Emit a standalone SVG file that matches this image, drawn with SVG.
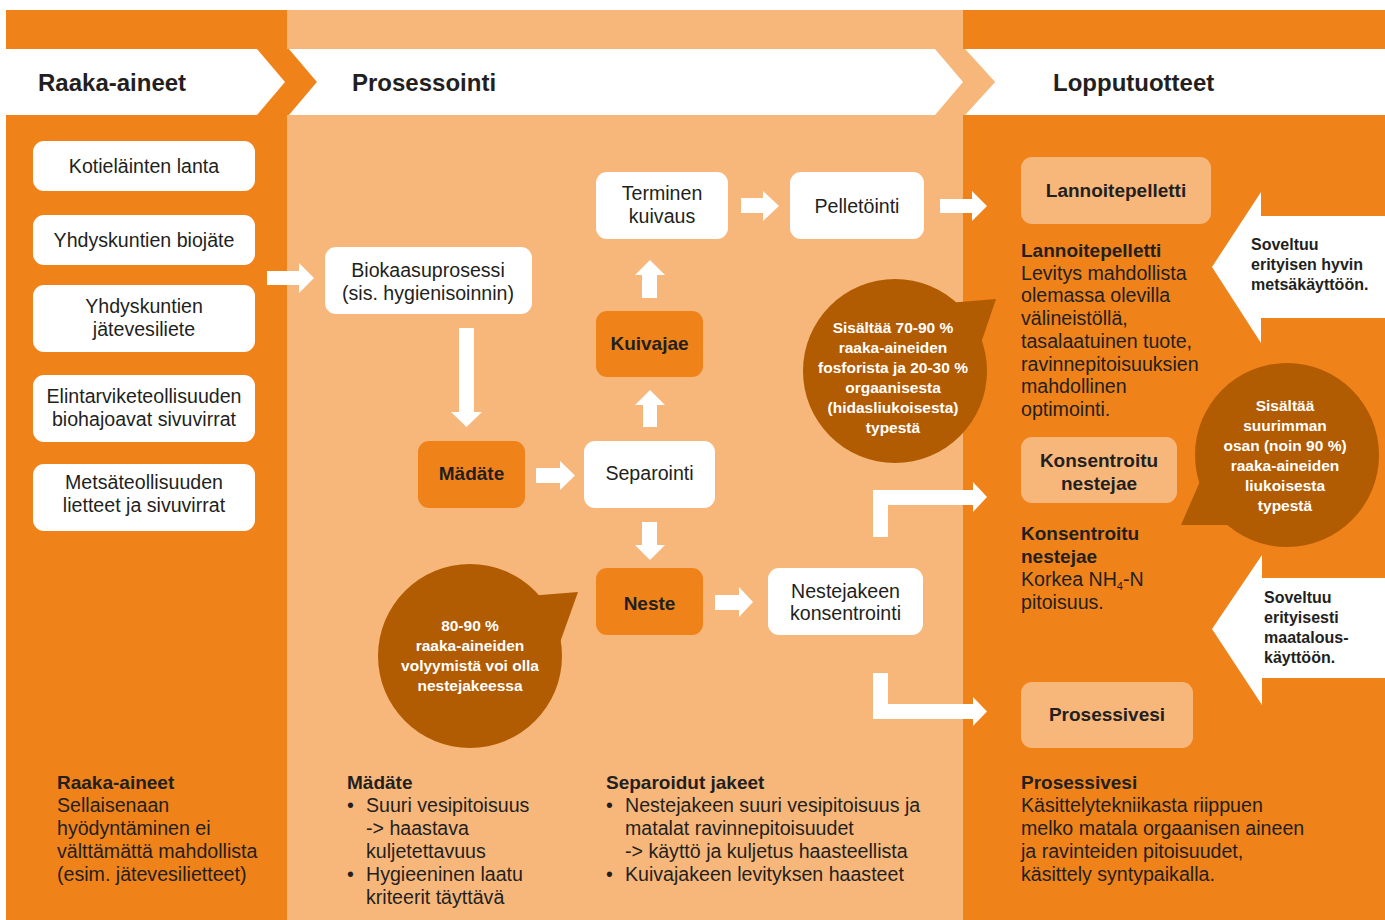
<svg xmlns="http://www.w3.org/2000/svg" width="1385" height="920" viewBox="0 0 1385 920">
<style>
.or{fill:#F0821A}
.lo{fill:#F8B77A}
.wh{fill:#FFFFFF}
.br{fill:#B15C02}
.t{font-family:"Liberation Sans",Arial,sans-serif;font-size:19.6px;fill:#231F20}
.c{text-anchor:middle}
.b{font-family:"Liberation Sans",Arial,sans-serif;font-weight:bold;fill:#231F20}
.h{font-size:24px}
.bl{font-size:19px}
.m{text-anchor:middle}
.bw{font-family:"Liberation Sans",Arial,sans-serif;font-weight:bold;font-size:15.5px;fill:#FFFFFF;text-anchor:middle}
.sv{font-family:"Liberation Sans",Arial,sans-serif;font-weight:bold;font-size:16px;fill:#231F20}
</style>
<rect width="1385" height="920" fill="#FFFFFF"/>
<!-- columns -->
<rect x="6" y="10" width="281" height="910" class="or"/>
<rect x="287" y="10" width="676" height="910" class="lo"/>
<rect x="963" y="10" width="422" height="910" class="or"/>
<!-- header -->
<g id="header">
<polygon points="257,49 289,49 317,82 289,115 257,115 285,82" class="or"/>
<polygon points="935,49 965,49 995,82 965,115 935,115 963,82" class="lo"/>
<polygon points="6,49 257,49 285,82 257,115 6,115" class="wh"/>
<polygon points="289,49 935,49 963,82 935,115 289,115 317,82" class="wh"/>
<polygon points="965,49 1385,49 1385,115 965,115 995,82" class="wh"/>
<text x="38" y="91" class="b h">Raaka-aineet</text>
<text x="352" y="91" class="b h">Prosessointi</text>
<text x="1053" y="91" class="b h">Lopputuotteet</text>
</g>
<!-- connectors -->
<g id="connectors" class="wh">
<polygon points="267,271 299,271 299,263 314,278 299,293 299,285 267,285"/>
<polygon points="459,328 474,328 474,412 482,412 466.5,427 451,412 459,412"/>
<polygon points="536,468 560,468 560,461 575,475.5 560,490 560,483 536,483"/>
<polygon points="643,427 643,405 635,405 650,390 665,405 657,405 657,427"/>
<polygon points="642,298 642,275 635,275 650,260 665,275 657,275 657,298"/>
<polygon points="642,522 657,522 657,545 665,545 650,560 635,545 642,545"/>
<polygon points="715,595 739,595 739,587 753,602 739,617 739,610 715,610"/>
<polygon points="741,198 763,198 763,191 779,206 763,221 763,213 741,213"/>
<polygon points="940,199 972,199 972,191 987,206 972,221 972,213 940,213"/>
<polygon points="873,537 873,490 973,490 973,482 987,497 973,512 973,505 888,505 888,537"/>
<polygon points="873,673 888,673 888,704 973,704 973,697 987,711.5 973,726 973,719 873,719"/>
</g>
<!-- raw materials -->
<g id="n-kotielainten">
<rect x="33" y="141" width="222" height="50" rx="11" class="wh"/>
<text x="144" y="173" class="t c">Kotieläinten lanta</text>
</g>
<g id="n-biojate">
<rect x="33" y="215" width="222" height="50" rx="11" class="wh"/>
<text x="144" y="247" class="t c">Yhdyskuntien biojäte</text>
</g>
<g id="n-jatevesiliete">
<rect x="33" y="285" width="222" height="67" rx="11" class="wh"/>
<text x="144" y="313" class="t c">Yhdyskuntien</text>
<text x="144" y="336" class="t c">jätevesiliete</text>
</g>
<g id="n-elintarvike">
<rect x="33" y="375" width="222" height="67" rx="11" class="wh"/>
<text x="144" y="403" class="t c">Elintarviketeollisuuden</text>
<text x="144" y="426" class="t c">biohajoavat sivuvirrat</text>
</g>
<g id="n-metsa">
<rect x="33" y="464" width="222" height="67" rx="11" class="wh"/>
<text x="144" y="489" class="t c">Metsäteollisuuden</text>
<text x="144" y="512" class="t c">lietteet ja sivuvirrat</text>
</g>
<!-- process -->
<g id="n-biokaasu">
<rect x="325" y="247" width="207" height="67" rx="11" class="wh"/>
<text x="428" y="277" class="t c">Biokaasuprosessi</text>
<text x="428" y="299.5" class="t c">(sis. hygienisoinnin)</text>
</g>
<g id="n-madate">
<rect x="418" y="441" width="107" height="67" rx="11" class="or"/>
<text x="471.5" y="480" class="b bl m">Mädäte</text>
</g>
<g id="n-separointi">
<rect x="584" y="441" width="131" height="67" rx="11" class="wh"/>
<text x="649.5" y="480" class="t c">Separointi</text>
</g>
<g id="n-kuivajae">
<rect x="596" y="311" width="107" height="66" rx="11" class="or"/>
<text x="649.5" y="350" class="b bl m">Kuivajae</text>
</g>
<g id="n-terminen">
<rect x="596" y="172" width="132" height="67" rx="11" class="wh"/>
<text x="662" y="200" class="t c">Terminen</text>
<text x="662" y="223" class="t c">kuivaus</text>
</g>
<g id="n-pelletointi">
<rect x="790" y="172" width="134" height="67" rx="11" class="wh"/>
<text x="857" y="213" class="t c">Pelletöinti</text>
</g>
<g id="n-neste">
<rect x="596" y="568" width="107" height="67" rx="11" class="or"/>
<text x="649.5" y="610" class="b bl m">Neste</text>
</g>
<g id="n-nestejakeen">
<rect x="768" y="568" width="155" height="67" rx="11" class="wh"/>
<text x="845.5" y="597.5" class="t c">Nestejakeen</text>
<text x="845.5" y="620" class="t c">konsentrointi</text>
</g>
<!-- bubbles -->
<g id="bubble-fosfori">
<ellipse cx="895" cy="371" rx="92" ry="92" class="br"/>
<polygon points="948,303 996,299 978,352" class="br"/>
<text x="893" y="333" class="bw">Sisältää 70-90 %</text>
<text x="893" y="353" class="bw">raaka-aineiden</text>
<text x="893" y="373" class="bw">fosforista ja 20-30 %</text>
<text x="893" y="393" class="bw">orgaanisesta</text>
<text x="893" y="413" class="bw">(hidasliukoisesta)</text>
<text x="893" y="433" class="bw">typestä</text>
</g>
<g id="bubble-typpi">
<ellipse cx="1287" cy="455" rx="92" ry="92" class="br"/>
<polygon points="1181,525 1205,470 1245,525" class="br"/>
<text x="1285" y="411" class="bw">Sisältää</text>
<text x="1285" y="431" class="bw">suurimman</text>
<text x="1285" y="451" class="bw">osan (noin 90 %)</text>
<text x="1285" y="471" class="bw">raaka-aineiden</text>
<text x="1285" y="491" class="bw">liukoisesta</text>
<text x="1285" y="511" class="bw">typestä</text>
</g>
<g id="bubble-volyymi">
<ellipse cx="470" cy="656" rx="92" ry="92" class="br"/>
<polygon points="528,596 578,592 558,648" class="br"/>
<text x="470" y="631" class="bw">80-90 %</text>
<text x="470" y="651" class="bw">raaka-aineiden</text>
<text x="470" y="671" class="bw">volyymistä voi olla</text>
<text x="470" y="691" class="bw">nestejakeessa</text>
</g>
<!-- end products -->
<g id="n-lannoitepelletti">
<rect x="1021" y="157" width="190" height="67" rx="11" class="lo"/>
<text x="1116" y="197" class="b bl m">Lannoitepelletti</text>
</g>
<g id="n-konsentroitu">
<rect x="1021" y="437" width="156" height="66" rx="11" class="lo"/>
<text x="1099" y="467" class="b bl m">Konsentroitu</text>
<text x="1099" y="489.5" class="b bl m">nestejae</text>
</g>
<g id="n-prosessivesi">
<rect x="1021" y="682" width="172" height="66" rx="11" class="lo"/>
<text x="1107" y="721" class="b bl m">Prosessivesi</text>
</g>
<g id="note-metsa">
<polygon points="1212,267 1261,192 1261,216 1385,216 1385,318 1261,318 1261,343" class="wh"/>
<text x="1251" y="250" class="sv">Soveltuu</text>
<text x="1251" y="270" class="sv">erityisen hyvin</text>
<text x="1251" y="290" class="sv">metsäkäyttöön.</text>
</g>
<g id="note-maatalous">
<polygon points="1212,629 1262,555 1262,578 1385,578 1385,678 1262,678 1262,705" class="wh"/>
<text x="1264" y="603" class="sv">Soveltuu</text>
<text x="1264" y="623" class="sv">erityisesti</text>
<text x="1264" y="643" class="sv">maatalous-</text>
<text x="1264" y="663" class="sv">käyttöön.</text>
</g>
<!-- descriptions -->
<g id="desc-lannoitepelletti">
<text x="1021" y="257" class="b bl">Lannoitepelletti</text>
<text x="1021" y="279.7" class="t">Levitys mahdollista</text>
<text x="1021" y="302.4" class="t">olemassa olevilla</text>
<text x="1021" y="325.1" class="t">välineistöllä,</text>
<text x="1021" y="347.8" class="t">tasalaatuinen tuote,</text>
<text x="1021" y="370.5" class="t">ravinnepitoisuuksien</text>
<text x="1021" y="393.2" class="t">mahdollinen</text>
<text x="1021" y="416" class="t">optimointi.</text>
</g>
<g id="desc-konsentroitu">
<text x="1021" y="540" class="b bl">Konsentroitu</text>
<text x="1021" y="563" class="b bl">nestejae</text>
<text x="1021" y="586" class="t">Korkea NH<tspan font-size="11" dy="4">4</tspan><tspan dy="-4">-N</tspan></text>
<text x="1021" y="609" class="t">pitoisuus.</text>
</g>
<g id="desc-raaka">
<text x="57" y="789" class="b bl">Raaka-aineet</text>
<text x="57" y="812" class="t">Sellaisenaan</text>
<text x="57" y="835" class="t">hyödyntäminen ei</text>
<text x="57" y="858" class="t">välttämättä mahdollista</text>
<text x="57" y="881" class="t">(esim. jätevesilietteet)</text>
</g>
<g id="desc-madate">
<text x="347" y="789" class="b bl">Mädäte</text>
<text x="347" y="812" class="t">•</text>
<text x="366" y="812" class="t">Suuri vesipitoisuus</text>
<text x="366" y="835" class="t">-&gt; haastava</text>
<text x="366" y="858" class="t">kuljetettavuus</text>
<text x="347" y="881" class="t">•</text>
<text x="366" y="881" class="t">Hygieeninen laatu</text>
<text x="366" y="904" class="t">kriteerit täyttävä</text>
</g>
<g id="desc-separoidut">
<text x="606" y="789" class="b bl">Separoidut jakeet</text>
<text x="606" y="812" class="t">•</text>
<text x="625" y="812" class="t">Nestejakeen suuri vesipitoisuus ja</text>
<text x="625" y="835" class="t">matalat ravinnepitoisuudet</text>
<text x="625" y="858" class="t">-&gt; käyttö ja kuljetus haasteellista</text>
<text x="606" y="881" class="t">•</text>
<text x="625" y="881" class="t">Kuivajakeen levityksen haasteet</text>
</g>
<g id="desc-prosessivesi">
<text x="1021" y="789" class="b bl">Prosessivesi</text>
<text x="1021" y="812" class="t">Käsittelytekniikasta riippuen</text>
<text x="1021" y="835" class="t">melko matala orgaanisen aineen</text>
<text x="1021" y="858" class="t">ja ravinteiden pitoisuudet,</text>
<text x="1021" y="881" class="t">käsittely syntypaikalla.</text>
</g>
</svg>
